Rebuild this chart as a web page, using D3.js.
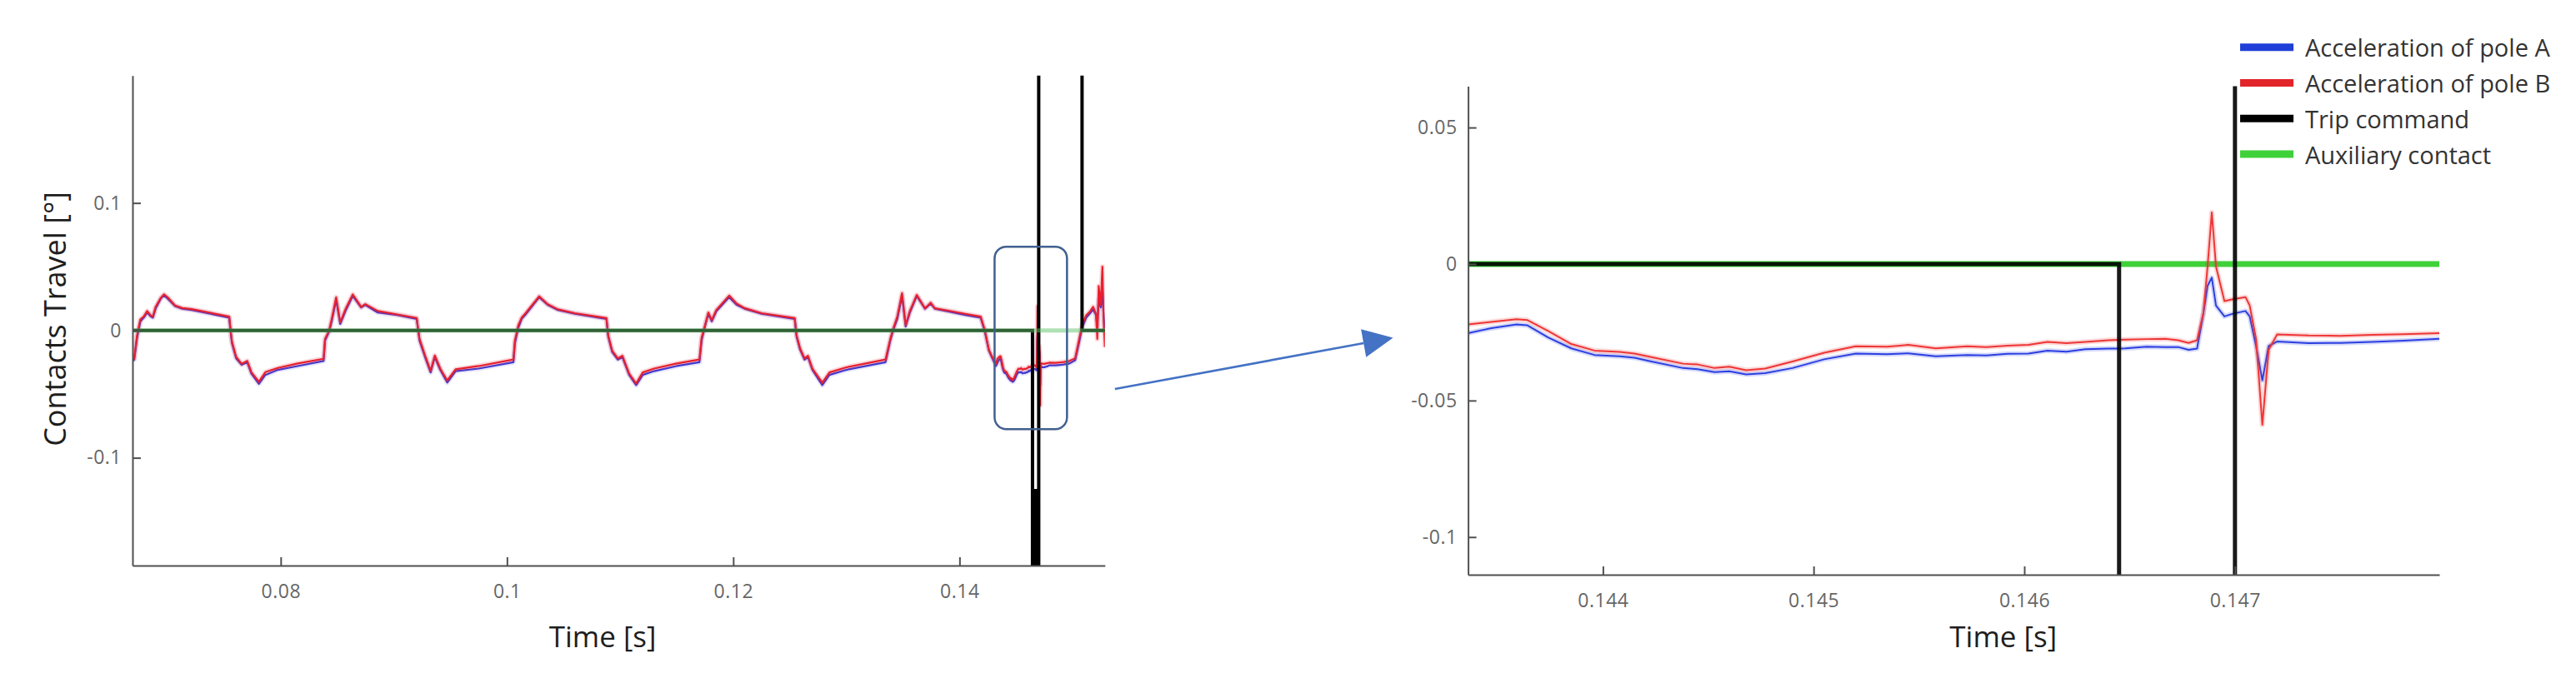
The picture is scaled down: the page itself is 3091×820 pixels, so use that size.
<!DOCTYPE html>
<html>
<head>
<meta charset="utf-8">
<script src="https://cdn.jsdelivr.net/npm/d3@7"></script>
<style>
  body { margin: 0; background: #ffffff; }
  svg { display: block; }
  text { font-family: "Open Sans", sans-serif; }
</style>
</head>
<body>
<svg id="chart" width="3091" height="820"></svg>
<script>
// ---------------- DATA ----------------
// Left panel, cycles before the zoomed window (time in s, travel in deg)
const cycleTime = [
  0.0669, 0.06705, 0.0673, 0.06759, 0.0679, 0.0682, 0.0685, 0.0687, 0.06894, 0.0694, 0.06968, 0.0700, 0.07066, 0.0713,
  0.07213, 0.0738, 0.07545, 0.07557, 0.07569, 0.07606, 0.07655, 0.07704, 0.07741, 0.07807, 0.07864, 0.07974, 0.0815, 0.08379,
  0.08392, 0.08428, 0.08453, 0.0849, 0.08526, 0.08576, 0.08637, 0.08711, 0.08748, 0.08858, 0.0903, 0.09202, 0.09227, 0.09276,
  0.09325, 0.09362, 0.0941, 0.09472, 0.09546, 0.0975, 0.10057,
  0.1007, 0.1010, 0.1013, 0.1016, 0.10285, 0.1036, 0.1045, 0.1060, 0.10879, 0.10895, 0.1093, 0.1098, 0.1102, 0.1105,
  0.1108, 0.11142, 0.1120, 0.1130, 0.1150, 0.11701,
  0.1172, 0.1175, 0.1178, 0.1181, 0.1185, 0.11964, 0.1203, 0.1210, 0.1225, 0.12543, 0.1256, 0.1259, 0.1263, 0.1266,
  0.1270, 0.12787, 0.1285, 0.1300, 0.13346,
  0.13388, 0.13413, 0.1345, 0.13492, 0.13524, 0.13561, 0.13622, 0.13695, 0.13745, 0.13782, 0.13892, 0.1405, 0.14187,
  0.14224, 0.1426, 0.14285, 0.14322
];
const cyclePoleB = [
  -0.023, -0.022, -0.004, 0.0086, 0.011, 0.0152, 0.0118, 0.0108, 0.0184, 0.0255, 0.0282, 0.026, 0.0195, 0.0175,
  0.0167, 0.0138, 0.0108, 0.0, -0.0088, -0.0208, -0.0263, -0.024, -0.0328, -0.0404, -0.0328, -0.0295, -0.026, -0.0223,
  -0.0067, 0.0, 0.0097, 0.026, 0.0064, 0.0173, 0.0282, 0.0184, 0.0206, 0.0152, 0.0125, 0.0097, -0.0067, -0.0197,
  -0.0317, -0.0197, -0.030, -0.0393, -0.0306, -0.028, -0.0229,
  -0.008, 0.004, 0.010, 0.013, 0.0267, 0.0205, 0.0165, 0.0135, 0.0096, -0.004, -0.016, -0.022, -0.020, -0.027,
  -0.034, -0.0417, -0.033, -0.030, -0.026, -0.0229,
  -0.006, 0.004, 0.014, 0.008, 0.016, 0.0273, 0.021, 0.0175, 0.0135, 0.0096, -0.004, -0.014, -0.022, -0.020,
  -0.030, -0.0411, -0.033, -0.029, -0.0229,
  -0.0067, 0.001, 0.0108, 0.0293, 0.0042, 0.0152, 0.0278, 0.0173, 0.0217, 0.0173, 0.0156, 0.013, 0.0108,
  0.0, -0.0154, -0.020, -0.0263
];
const cyclePoleA = [
  -0.024, -0.023, -0.006, 0.007, 0.010, 0.014, 0.011, 0.010, 0.017, 0.025, 0.0275, 0.025, 0.019, 0.017,
  0.016, 0.013, 0.010, -0.001, -0.010, -0.022, -0.027, -0.025, -0.034, -0.042, -0.035, -0.031, -0.028, -0.024,
  -0.008, -0.001, 0.008, 0.024, 0.005, 0.016, 0.027, 0.018, 0.020, 0.014, 0.012, 0.009, -0.008, -0.021,
  -0.033, -0.021, -0.031, -0.041, -0.032, -0.030, -0.025,
  -0.010, 0.002, 0.009, 0.012, 0.026, 0.020, 0.016, 0.013, 0.009, -0.005, -0.017, -0.023, -0.021, -0.028,
  -0.035, -0.043, -0.035, -0.032, -0.028, -0.025,
  -0.008, 0.003, 0.013, 0.007, 0.015, 0.026, 0.020, 0.017, 0.013, 0.009, -0.005, -0.015, -0.023, -0.021,
  -0.031, -0.043, -0.035, -0.031, -0.025,
  -0.008, 0.000, 0.009, 0.027, 0.003, 0.014, 0.027, 0.017, 0.021, 0.017, 0.015, 0.012, 0.010,
  -0.001, -0.016, -0.021, -0.028
];

// Zoomed window (shown in the right panel, also part of the left panel)
const zoomTime = [
  0.14336, 0.14347, 0.14359, 0.14364, 0.14374, 0.14385, 0.14396, 0.14408, 0.14415, 0.14423,
  0.14438, 0.14445, 0.14453, 0.14460, 0.14468, 0.14477, 0.14490, 0.14505, 0.14520, 0.14535,
  0.14545, 0.14558, 0.14573, 0.14582, 0.14592, 0.14602, 0.14611, 0.14620, 0.14629, 0.14640,
  0.14648, 0.14658, 0.14667, 0.14673, 0.14678, 0.14682, 0.14685, 0.14687, 0.14689, 0.14691,
  0.14695, 0.14699, 0.14705, 0.14707, 0.14710, 0.14713, 0.14716, 0.14720, 0.14735, 0.14750,
  0.14765, 0.14780, 0.14797
];
const zoomPoleB = [
  -0.0221, -0.0212, -0.0202, -0.0205, -0.0245, -0.0293, -0.0317, -0.0322, -0.0328, -0.0341,
  -0.0365, -0.0368, -0.0381, -0.0376, -0.0389, -0.0383, -0.0357, -0.0325, -0.0301, -0.0303,
  -0.0296, -0.0309, -0.0301, -0.0304, -0.0299, -0.0296, -0.0285, -0.0290, -0.0285, -0.0279,
  -0.0277, -0.0275, -0.0274, -0.0279, -0.0289, -0.0279, -0.0180, -0.0009, 0.0189, -0.0009,
  -0.0136, -0.0129, -0.0121, -0.0152, -0.0274, -0.0589, -0.0314, -0.0258, -0.0262, -0.0263,
  -0.0259, -0.0257, -0.0253
];
const zoomPoleA = [
  -0.0253, -0.0235, -0.0221, -0.0224, -0.0269, -0.0309, -0.0333, -0.0338, -0.0343, -0.0357,
  -0.0381, -0.0385, -0.0396, -0.0393, -0.0404, -0.0400, -0.0381, -0.0349, -0.0328, -0.0330,
  -0.0327, -0.0338, -0.0333, -0.0335, -0.0329, -0.0328, -0.0317, -0.0321, -0.0312, -0.0310,
  -0.0309, -0.0303, -0.0304, -0.0304, -0.0314, -0.0310, -0.0182, -0.0080, -0.0050, -0.0152,
  -0.0192, -0.0182, -0.0172, -0.0192, -0.0300, -0.0426, -0.0300, -0.0284, -0.0290, -0.0289,
  -0.0285, -0.0281, -0.0274
];

// After the zoomed window (left panel only)
const tailTime  = [0.1485, 0.1492, 0.14972, 0.15022, 0.15058, 0.15083, 0.1512, 0.15155, 0.15181, 0.15206, 0.15218, 0.1523, 0.15248, 0.15263, 0.15275, 0.15285];
const tailPoleB = [-0.0255, -0.0248, -0.024, -0.0219, -0.0067, 0.0042, 0.0119, 0.0150, 0.0184, 0.013, -0.0067, 0.0348, 0.020, 0.050, 0.005, -0.0132];
const tailPoleA = [-0.0275, -0.0268, -0.026, -0.0235, -0.009, 0.002, 0.0100, 0.0135, 0.0165, 0.012, 0.004, 0.024, 0.018, 0.028, 0.010, 0.002];

// Trip command and auxiliary contact signals
const tripTime  = [0.0669, 0.14645, 0.14645, 0.14650, 0.14655, 0.14660, 0.14665, 0.14670, 0.14675, 0.14680, 0.14685, 0.14690, 0.14695, 0.14700, 0.14700, 0.15083, 0.15083, 0.15285];
const tripValue = [0, 0, -0.3, -0.1245, -0.3, -0.1245, -0.3, -0.1245, -0.3, -0.1245, -0.3, -0.1245, -0.3, -0.3, 0.3, 0.3, 0, 0];
const auxTime  = [0.0669, 0.15285];
const auxValue = [0, 0];

// Zoom box drawn on the left panel (time / travel extent)
const zoomBoxTime  = [0.1431, 0.1495];
const zoomBoxTravel = [-0.0775, 0.0657];

// Ticks
const leftXTicks  = [0.08, 0.1, 0.12, 0.14];
const leftXLabels = ["0.08", "0.1", "0.12", "0.14"];
const leftYTicks  = [0.1, 0, -0.1];
const leftYLabels = ["0.1", "0", "-0.1"];
const rightXTicks  = [0.144, 0.145, 0.146, 0.147];
const rightXLabels = ["0.144", "0.145", "0.146", "0.147"];
const rightYTicks  = [0.05, 0, -0.05, -0.1];
const rightYLabels = ["0.05", "0", "-0.05", "-0.1"];

const legendNames = ["Acceleration of pole A", "Acceleration of pole B", "Trip command", "Auxiliary contact"];
const legendColors = ["#1f3fd8", "#e2242b", "#000000", "#3fd13a"];

// ---------------- DRAWING ----------------
const svg = d3.select("#chart");
const defs = svg.append("defs");

function zip(t, v) { return t.map((d, i) => [d, v[i]]); }

const leftB = zip(cycleTime, cyclePoleB).concat(zip(zoomTime, zoomPoleB), zip(tailTime, tailPoleB));
const leftA = zip(cycleTime, cyclePoleA).concat(zip(zoomTime, zoomPoleA), zip(tailTime, tailPoleA));
const rightB = zip(zoomTime, zoomPoleB);
const rightA = zip(zoomTime, zoomPoleA);
const trip = zip(tripTime, tripValue);
const aux = zip(auxTime, auxValue);

function drawPanel(cfg) {
  const x = d3.scaleLinear().domain(cfg.xDomain).range(cfg.xRange);
  const y = d3.scaleLinear().domain(cfg.yDomain).range(cfg.yRange);
  const clipId = cfg.id + "-clip";
  defs.append("clipPath").attr("id", clipId).append("rect")
    .attr("x", cfg.xRange[0]).attr("y", cfg.yRange[1])
    .attr("width", cfg.xRange[1] - cfg.xRange[0])
    .attr("height", cfg.yRange[0] - cfg.yRange[1]);

  const line = d3.line().x(d => x(d[0])).y(d => y(d[1]));
  const plot = svg.append("g").attr("clip-path", `url(#${clipId})`);

  const drawAux = (opacity) => plot.append("path").attr("d", line(aux)).attr("fill", "none")
    .attr("stroke", cfg.auxColor).attr("stroke-opacity", opacity).attr("stroke-width", cfg.auxWidth);

  if (!cfg.auxOnTop) drawAux(1);

  // traces with soft halo
  [[cfg.dataA, cfg.colorA, cfg.haloA], [cfg.dataB, cfg.colorB, cfg.haloB]].forEach(([data, col, haloOp]) => {
    plot.append("path").attr("d", line(data)).attr("fill", "none")
      .attr("stroke", col).attr("stroke-opacity", haloOp).attr("stroke-width", cfg.haloWidth)
      .attr("stroke-linejoin", "round");
    plot.append("path").attr("d", line(data)).attr("fill", "none")
      .attr("stroke", col).attr("stroke-width", cfg.traceWidth)
      .attr("stroke-linejoin", "round");
  });

  // trip command (black)
  plot.append("path").attr("d", line(trip)).attr("fill", "none")
    .attr("stroke", "#000").attr("stroke-opacity", cfg.tripOpacity)
    .attr("stroke-width", cfg.tripWidth).attr("stroke-linejoin", "miter");

  if (cfg.auxOnTop) drawAux(cfg.auxTopOpacity);

  // axes
  const xAxis = d3.axisBottom(x).tickValues(cfg.xTicks).tickFormat((d, i) => cfg.xLabels[i])
    .tickSizeInner(-10).tickSizeOuter(0).tickPadding(23);
  const yAxis = d3.axisLeft(y).tickValues(cfg.yTicks).tickFormat((d, i) => cfg.yLabels[i])
    .tickSizeInner(-10).tickSizeOuter(0).tickPadding(13);

  const gx = svg.append("g").attr("transform", `translate(0,${cfg.yRange[0]})`).call(xAxis);
  const gy = svg.append("g").attr("transform", `translate(${cfg.xRange[0]},0)`).call(yAxis);
  [gx, gy].forEach(g => {
    g.attr("font-family", "Open Sans").attr("font-size", 23);
    g.select(".domain").attr("stroke", "#505050").attr("stroke-width", 2);
    g.selectAll(".tick line").attr("stroke", "#505050").attr("stroke-width", 2);
    g.selectAll(".tick text").attr("fill", "#666666").attr("letter-spacing", "0.5px");
  });

  // x title
  svg.append("text").attr("x", x(cfg.xTitleAt)).attr("y", 777)
    .attr("text-anchor", "middle").attr("font-size", 35).attr("fill", "#1e1e1e")
    .text("Time [s]");

  return { x, y };
}

const L = drawPanel({
  id: "left",
  xDomain: [0.0669, 0.15285], xRange: [159, 1325.8],
  yDomain: [-0.1846, 0.2], yRange: [679, 90.7],
  dataA: leftA, dataB: leftB, colorA: "#3a3ad8", colorB: "#e8202e",
  haloA: 0.12, haloB: 0.18,
  traceWidth: 2.2, haloWidth: 6,
  auxColor: "#5fc46c", auxWidth: 5, auxOnTop: true, auxTopOpacity: 0.5,
  tripWidth: 4, tripOpacity: 1,
  xTicks: leftXTicks, xLabels: leftXLabels, yTicks: leftYTicks, yLabels: leftYLabels,
  xTitleAt: 0.10845
});

const R = drawPanel({
  id: "right",
  xDomain: [0.14336, 0.14797], xRange: [1761.6, 2927],
  yDomain: [-0.1138, 0.0651], yRange: [690, 103.6],
  dataA: rightA, dataB: rightB, colorA: "#2b3fe0", colorB: "#ee3535",
  haloA: 0.2, haloB: 0.2,
  traceWidth: 2, haloWidth: 6,
  auxColor: "#3fd13a", auxWidth: 7, auxOnTop: false,
  tripWidth: 5, tripOpacity: 0.9,
  xTicks: rightXTicks, xLabels: rightXLabels, yTicks: rightYTicks, yLabels: rightYLabels,
  xTitleAt: 0.1459
});

// y title (left panel)
svg.append("text")
  .attr("transform", `translate(79,${(L.y(0.2) + L.y(-0.1846)) / 2 - 2}) rotate(-90)`)
  .attr("text-anchor", "middle").attr("font-size", 36).attr("fill", "#1e1e1e")
  .text("Contacts Travel [°]");

// zoom box on left panel
svg.append("rect")
  .attr("x", L.x(zoomBoxTime[0])).attr("y", L.y(zoomBoxTravel[1]))
  .attr("width", L.x(zoomBoxTime[1]) - L.x(zoomBoxTime[0]))
  .attr("height", L.y(zoomBoxTravel[0]) - L.y(zoomBoxTravel[1]))
  .attr("rx", 14).attr("ry", 14)
  .attr("fill", "none").attr("stroke", "#41608f").attr("stroke-width", 2.5);

// arrow from left panel to right panel
const a0 = [L.x.range()[1] + 12, L.y(-0.046)];
const a1 = [R.x.range()[0] - 90, R.y(-0.027)];
const ang = Math.atan2(a1[1] - a0[1], a1[0] - a0[0]);
const headLen = 36, headHalf = 17;
const base = [a1[0] - headLen * Math.cos(ang), a1[1] - headLen * Math.sin(ang)];
svg.append("line").attr("x1", a0[0]).attr("y1", a0[1]).attr("x2", base[0]).attr("y2", base[1])
  .attr("stroke", "#4472c4").attr("stroke-width", 2.6);
svg.append("path")
  .attr("d", `M${a1[0]},${a1[1]}L${base[0] - headHalf * Math.sin(ang)},${base[1] + headHalf * Math.cos(ang)}L${base[0] + headHalf * Math.sin(ang)},${base[1] - headHalf * Math.cos(ang)}Z`)
  .attr("fill", "#4472c4");

// legend
const lg = svg.append("g");
legendNames.forEach((name, i) => {
  const cy = 56.7 + i * 42.8;
  lg.append("line").attr("x1", 2688).attr("x2", 2752).attr("y1", cy).attr("y2", cy)
    .attr("stroke", legendColors[i]).attr("stroke-width", 9);
  lg.append("text").attr("x", 2766).attr("y", cy + 11.5)
    .attr("font-size", 29).attr("fill", "#333")
    .text(name);
});
</script>
</body>
</html>
